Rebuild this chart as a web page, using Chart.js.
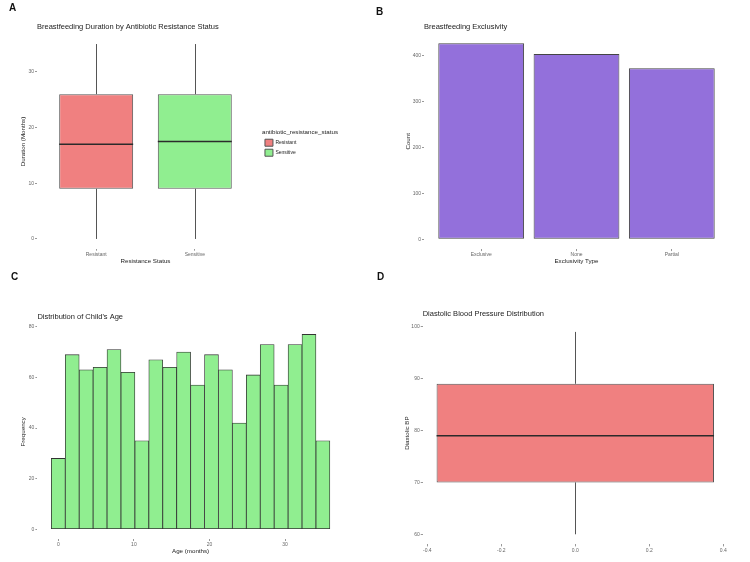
<!DOCTYPE html>
<html lang="en">
<head>
<meta charset="UTF-8">
<title>Breastfeeding study panels</title>
<style>
  html, body { margin: 0; padding: 0; background: #fff; }
  #wrap { position: relative; width: 750px; height: 562px; font-family: "Liberation Sans", Arial, sans-serif; }
  .panel { position: absolute; width: 375px; height: 281px; }
  .tag { position: absolute; font-weight: bold; font-size: 10px; line-height: 10px; color: #111; }
</style>
</head>
<body>
<div id="wrap">
  <div class="panel" style="left:0;top:0"><canvas id="chartA" width="375" height="281"></canvas></div>
  <div class="panel" style="left:375px;top:0"><canvas id="chartB" width="375" height="281"></canvas></div>
  <div class="panel" style="left:0;top:281px"><canvas id="chartC" width="375" height="281"></canvas></div>
  <div class="panel" style="left:375px;top:281px"><canvas id="chartD" width="375" height="281"></canvas></div>
  <div class="tag" style="left:9px;top:3px">A</div>
  <div class="tag" style="left:376px;top:7px">B</div>
  <div class="tag" style="left:11px;top:272px">C</div>
  <div class="tag" style="left:377px;top:272px">D</div>
</div>

<script src="https://cdn.jsdelivr.net/npm/chart.js@4.4.1/dist/chart.umd.min.js"></script>
<script>
// A: breastfeeding duration by resistance status (box stats)
const groups = ['Resistant', 'Sensitive'];
const groupPos = [1, 2];
const durMin = [0, 0];
const durQ1 = [9, 9];
const durMed = [17, 17.5];
const durQ3 = [26, 26];
const durMax = [35, 35];
const durTicks = [0, 10, 20, 30];

// B: exclusivity counts
const exclTypes = ['Exclusive', 'None', 'Partial'];
const exclCounts = [426, 403, 372];
const countTicks = [0, 100, 200, 300, 400];

// C: child's age histogram (20 bins)
const ageBins = [0, 1.8421, 3.6842, 5.5263, 7.3684, 9.2105, 11.0526, 12.8947, 14.7368, 16.5789,
                 18.4211, 20.2632, 22.1053, 23.9474, 25.7895, 27.6316, 29.4737, 31.3158, 33.1579, 35];
const ageFreq = [28, 69, 63, 64, 71, 62, 35, 67, 64, 70, 57, 69, 63, 42, 61, 73, 57, 73, 77, 35];
const ageTicks = [0, 10, 20, 30];
const freqTicks = [0, 20, 40, 60, 80];

// D: diastolic BP box stats
const bpMin = [60];
const bpQ1 = [70];
const bpMed = [79];
const bpQ3 = [89];
const bpMax = [99];
const bpTicks = [60, 70, 80, 90, 100];
const bpXTicks = [-0.4, -0.2, 0, 0.2, 0.4];

Chart.defaults.font.family = '"Liberation Sans", Arial, sans-serif';
Chart.defaults.color = '#666';

function yAxis(min, max, ticks, title, width, titlePad) {
    return {
        type: 'linear', min: min, max: max, bounds: 'data',
        afterBuildTicks: s => { s.ticks = ticks.map(v => ({value: v})); },
        afterFit: s => { s.width = width; },
        grid: {drawOnChartArea: false, tickLength: 2, color: '#999'},
        border: {display: false},
        ticks: {font: {size: 5}, color: '#666', padding: 1},
        title: {display: !!title, text: title, font: {size: 6.2}, color: '#222', padding: {top: titlePad, bottom: 0}}
    };
}

function xAxis(min, max, ticks, fmt, title, height, titlePad) {
    return {
        type: 'linear', min: min, max: max, bounds: 'data', offset: false,
        afterBuildTicks: s => { s.ticks = ticks.map(v => ({value: v})); },
        afterFit: s => { s.height = height; },
        grid: {drawOnChartArea: false, offset: false, tickLength: 2, color: '#999'},
        border: {display: false},
        ticks: {font: {size: 5}, color: '#666', padding: 1, maxRotation: 0, autoSkip: false, callback: fmt},
        title: {display: !!title, text: title, font: {size: 6.2}, color: '#222', padding: {top: 0, bottom: titlePad}}
    };
}

function titleOpt(text, top, bottom) {
    return {display: true, text: text, align: 'start', fullSize: false, color: '#222',
            font: {size: 7.5, weight: 'normal'}, padding: {top: top, bottom: bottom}};
}

// whiskers + median lines for the box plots
function boxPlugin(pos, lo, q1, med, q3, hi) {
    return {
        id: 'boxLines',
        afterDatasetsDraw(chart) {
            const ctx = chart.ctx, xs = chart.scales.x, ys = chart.scales.y;
            const bars = chart.getDatasetMeta(0).data;
            ctx.save();
            pos.forEach((p, i) => {
                const x = Math.round(xs.getPixelForValue(p)) + 0.5;
                ctx.strokeStyle = '#555';
                ctx.lineWidth = 1;
                ctx.beginPath();
                ctx.moveTo(x, ys.getPixelForValue(hi[i]));
                ctx.lineTo(x, ys.getPixelForValue(q3[i]));
                ctx.moveTo(x, ys.getPixelForValue(q1[i]));
                ctx.lineTo(x, ys.getPixelForValue(lo[i]));
                ctx.stroke();
                const b = bars[i].getProps(['x', 'width'], true);
                const y = ys.getPixelForValue(med[i]);
                ctx.strokeStyle = '#2b2b2b';
                ctx.lineWidth = 1.6;
                ctx.beginPath();
                ctx.moveTo(b.x - b.width / 2, y);
                ctx.lineTo(b.x + b.width / 2, y);
                ctx.stroke();
            });
            ctx.restore();
        }
    };
}

// legend sits a little away from the panel, like ggplot, and needs room for its long title
const nudgeLegend = {
    id: 'nudgeLegend',
    afterLayout(chart) {
        const l = chart.legend;
        if (l) {
            l.left += 8;
            l.width = 100;
            l.right = l.left + l.width;
        }
    }
};

const groupColors = ['#F08080', '#90EE90'];

new Chart(document.getElementById('chartA'), {
    type: 'bar',
    data: {
        datasets: [{
            data: groupPos.map((p, i) => ({x: p, y: [durQ1[i], durQ3[i]]})),
            backgroundColor: groupColors,
            borderColor: '#555', borderWidth: 1, borderSkipped: false,
            barPercentage: 0.75, categoryPercentage: 1
        }]
    },
    options: {
        responsive: false, animation: false, devicePixelRatio: 1,
        layout: {padding: {left: 0, top: 0, right: 76.7, bottom: 0}},
        scales: {
            x: xAxis(0.4, 2.6, groupPos, (v, i) => groups[i], 'Resistance Status', 32.3, 16.3),
            y: yAxis(-1.75, 36.75, durTicks, 'Duration (Months)', 37, 19.8)
        },
        plugins: {
            title: titleOpt('Breastfeeding Duration by Antibiotic Resistance Status', 22.2, 3.1),
            tooltip: {enabled: false},
            legend: {
                display: true, position: 'right', align: 'center',
                title: {display: true, text: 'antibiotic_resistance_status', position: 'start',
                        color: '#222', font: {size: 6.2}, padding: {top: 7, bottom: 0}},
                labels: {
                    boxWidth: 8, boxHeight: 7, padding: 3, font: {size: 5}, color: '#333',
                    generateLabels: () => groups.map((g, i) => ({
                        text: g, fillStyle: groupColors[i], strokeStyle: '#555', lineWidth: 1,
                        hidden: false, datasetIndex: 0, index: i
                    }))
                }
            }
        }
    },
    plugins: [boxPlugin(groupPos, durMin, durQ1, durMed, durQ3, durMax), nudgeLegend]
});

new Chart(document.getElementById('chartB'), {
    type: 'bar',
    data: {
        datasets: [{
            data: exclTypes.map((t, i) => ({x: i + 1, y: exclCounts[i]})),
            backgroundColor: '#9370DB',
            borderColor: '#444', borderWidth: 1, borderSkipped: false,
            barPercentage: 0.9, categoryPercentage: 1
        }]
    },
    options: {
        responsive: false, animation: false, devicePixelRatio: 1,
        layout: {padding: {left: 0, top: 0, right: 21, bottom: 0}},
        scales: {
            x: xAxis(0.4, 3.6, [1, 2, 3], (v, i) => exclTypes[i], 'Exclusivity Type', 31.9, 16),
            y: yAxis(-21.3, 447.3, countTicks, 'Count', 49, 29.1)
        },
        plugins: {
            title: titleOpt('Breastfeeding Exclusivity', 22.8, 1.7),
            tooltip: {enabled: false},
            legend: {display: false}
        }
    }
});

new Chart(document.getElementById('chartC'), {
    type: 'bar',
    data: {
        datasets: [{
            data: ageBins.map((c, i) => ({x: c, y: ageFreq[i]})),
            backgroundColor: '#90EE90',
            borderColor: '#333', borderWidth: 0.8, borderSkipped: false,
            barPercentage: 1, categoryPercentage: 1
        }]
    },
    options: {
        responsive: false, animation: false, devicePixelRatio: 1,
        layout: {padding: {left: 0, top: 0, right: 31.2, bottom: 0}},
        scales: {
            x: xAxis(-2.763, 37.763, ageTicks, v => v, 'Age (months)', 23, 6.6),
            y: yAxis(-3.85, 80.85, freqTicks, 'Frequency', 37.4, 19.6)
        },
        plugins: {
            title: titleOpt("Distribution of Child's Age", 31.2, 3.5),
            tooltip: {enabled: false},
            legend: {display: false}
        }
    }
});

new Chart(document.getElementById('chartD'), {
    type: 'bar',
    data: {
        datasets: [{
            data: [{x: 0, y: [bpQ1[0], bpQ3[0]]}],
            backgroundColor: '#F08080',
            borderColor: '#555', borderWidth: 1, borderSkipped: false,
            // box is 0.75 wide, ticks are 0.2 apart
            barPercentage: 1, categoryPercentage: 3.75
        }]
    },
    options: {
        responsive: false, animation: false, devicePixelRatio: 1,
        layout: {padding: {left: 0, top: 0, right: 22.1, bottom: 0}},
        scales: {
            x: xAxis(-0.4125, 0.4125, bpXTicks, v => v.toFixed(1), '', 17.6, 0),
            y: yAxis(58.05, 100.95, bpTicks, 'Diastolic BP', 47.7, 28.8)
        },
        plugins: {
            title: titleOpt('Diastolic Blood Pressure Distribution', 28.8, 3.0),
            tooltip: {enabled: false},
            legend: {display: false}
        }
    },
    plugins: [boxPlugin([0], bpMin, bpQ1, bpMed, bpQ3, bpMax)]
});
</script>
</body>
</html>
